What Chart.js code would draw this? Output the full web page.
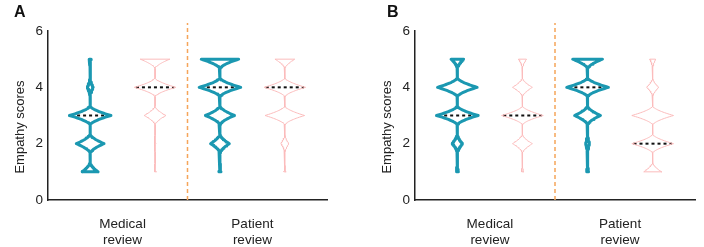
<!DOCTYPE html>
<html>
<head>
<meta charset="utf-8">
<script src="https://cdn.jsdelivr.net/npm/chart.js@4.4.0/dist/chart.umd.min.js"></script>
<style>
  body { margin: 0; background: #fff; }
  .wrap { display: flex; width: 704px; height: 247px; }
  canvas { display: block; }
</style>
</head>
<body>
<div class="wrap">
  <canvas id="chartA" width="352" height="247"></canvas>
  <canvas id="chartB" width="352" height="247"></canvas>
</div>
<script>
// scores on the y axis and the two review groups
const scores = [1, 2, 3, 4, 5];
const groupLabels = [['Medical', 'review'], ['Patient', 'review']];
const yTicks = [0, 2, 4, 6];

// relative frequency of each score (1..5)
// panel A
const aMedicalTeal = [8, 14, 21, 3, 1];
const aMedicalPink = [1, 1, 11, 21, 15];
const aPatientTeal = [1, 9, 14, 20, 18];
const aPatientPink = [1, 4, 20, 21, 10];
const aMedians = [3, 4, 4, 4];
// panel B
const bMedicalTeal = [1, 5, 20, 19, 6];
const bMedicalPink = [1, 10, 21, 10, 4];
const bPatientTeal = [1, 2, 13, 21, 15];
const bPatientPink = [9, 21, 21, 6, 3];
const bMedians = [3, 3, 4, 2];

const teal = '#1b98b1';
const pink = '#fbbcbc';
const orange = '#f5a55a';
const font = 'Liberation Sans, Arial, sans-serif';

// violin outline from the frequencies (narrow kernel, scaled to equal max width)
function density(freq, y) {
  let d = 0;
  for (let k = 0; k < scores.length; k++) {
    const t = Math.abs(y - scores[k]) / 0.34;
    if (t < 1) d += freq[k] * Math.pow(1 - t, 1.6);
  }
  return d;
}
function halfWidth(freq, y) {
  let maxD = 0;
  for (let i = 0; i <= 200; i++) maxD = Math.max(maxD, density(freq, 1 + i / 50));
  return density(freq, y) / maxD * 0.32;
}
function violin(freq, pos, color, lw) {
  const pts = [];
  for (let i = 0; i <= 200; i++) {
    const y = 1 + i / 50;
    pts.push({x: pos + halfWidth(freq, y), y: y});
  }
  for (let i = 200; i >= 0; i--) {
    const y = 1 + i / 50;
    pts.push({x: pos - halfWidth(freq, y), y: y});
  }
  pts.push(pts[0]);
  return {
    data: pts, showLine: true, borderColor: color, borderWidth: lw,
    pointRadius: 0, tension: 0, borderJoinStyle: 'round', borderCapStyle: 'round'
  };
}
function medianLine(freq, pos, m) {
  const w = halfWidth(freq, m) * 0.92;
  return {
    data: [{x: pos - w, y: m}, {x: pos + w, y: m}], showLine: true,
    borderColor: '#111', borderWidth: 2, borderDash: [3, 3], pointRadius: 0
  };
}

function buildDatasets(sets, medians) {
  const ds = [];
  const colors = [teal, pink, teal, pink];
  const widths = [3, 1, 3, 1];
  sets.forEach((f, i) => ds.push(violin(f, i, colors[i], widths[i])));
  sets.forEach((f, i) => ds.push(medianLine(f, i, medians[i])));
  ds.push({
    data: [{x: 1.5, y: 0}, {x: 1.5, y: 6.28}], showLine: true, clip: false,
    borderColor: orange, borderWidth: 1.5, borderDash: [4, 3], pointRadius: 0
  });
  return ds;
}

const panelText = {
  id: 'panelText',
  afterDraw(chart, args, opts) {
    const ctx = chart.ctx;
    ctx.save();
    ctx.fillStyle = '#111';
    ctx.font = 'bold 16px ' + font;
    ctx.textAlign = 'left';
    ctx.textBaseline = 'alphabetic';
    ctx.fillText(opts.letter, opts.letterX, 17);
    ctx.translate(opts.titleX, 127);
    ctx.rotate(-Math.PI / 2);
    ctx.font = '13px ' + font;
    ctx.fillStyle = '#222';
    ctx.textAlign = 'center';
    ctx.textBaseline = 'middle';
    ctx.fillText('Empathy scores', 0, 0);
    ctx.restore();
  }
};

function makeChart(id, sets, medians, leftW, rightPad, letter, letterX, titleX) {
  const ctx = document.getElementById(id).getContext('2d');
  return new Chart(ctx, {
    type: 'scatter',
    data: {datasets: buildDatasets(sets, medians)},
    plugins: [panelText],
    options: {
      responsive: false,
      animation: false,
      devicePixelRatio: 1,
      layout: {padding: {left: 0, top: 31, right: rightPad, bottom: 0}},
      plugins: {
        legend: {display: false},
        tooltip: {enabled: false},
        panelText: {letter: letter, letterX: letterX, titleX: titleX}
      },
      scales: {
        x: {
          type: 'linear', min: -0.65, max: 3.65,
          grid: {display: false, drawTicks: false},
          border: {color: '#222', width: 1.5},
          afterBuildTicks: s => { s.ticks = [{value: 0.5}, {value: 2.5}]; },
          afterFit: s => { s.height = 47; },
          ticks: {
            padding: 16, color: '#222', font: {family: font, size: 13.5},
            maxRotation: 0,
            callback: v => groupLabels[v < 1.5 ? 0 : 1]
          }
        },
        y: {
          min: 0, max: 6,
          grid: {display: false, drawTicks: false},
          border: {color: '#222', width: 1.5},
          afterBuildTicks: s => { s.ticks = yTicks.map(v => ({value: v})); },
          afterFit: s => { s.width = leftW; },
          ticks: {padding: 5, color: '#222', font: {family: font, size: 13.5}}
        }
      }
    }
  });
}

makeChart('chartA', [aMedicalTeal, aMedicalPink, aPatientTeal, aPatientPink], aMedians, 48, 25, 'A', 14, 20);
makeChart('chartB', [bMedicalTeal, bMedicalPink, bPatientTeal, bPatientPink], bMedians, 63, 9, 'B', 35, 35);
</script>
</body>
</html>
